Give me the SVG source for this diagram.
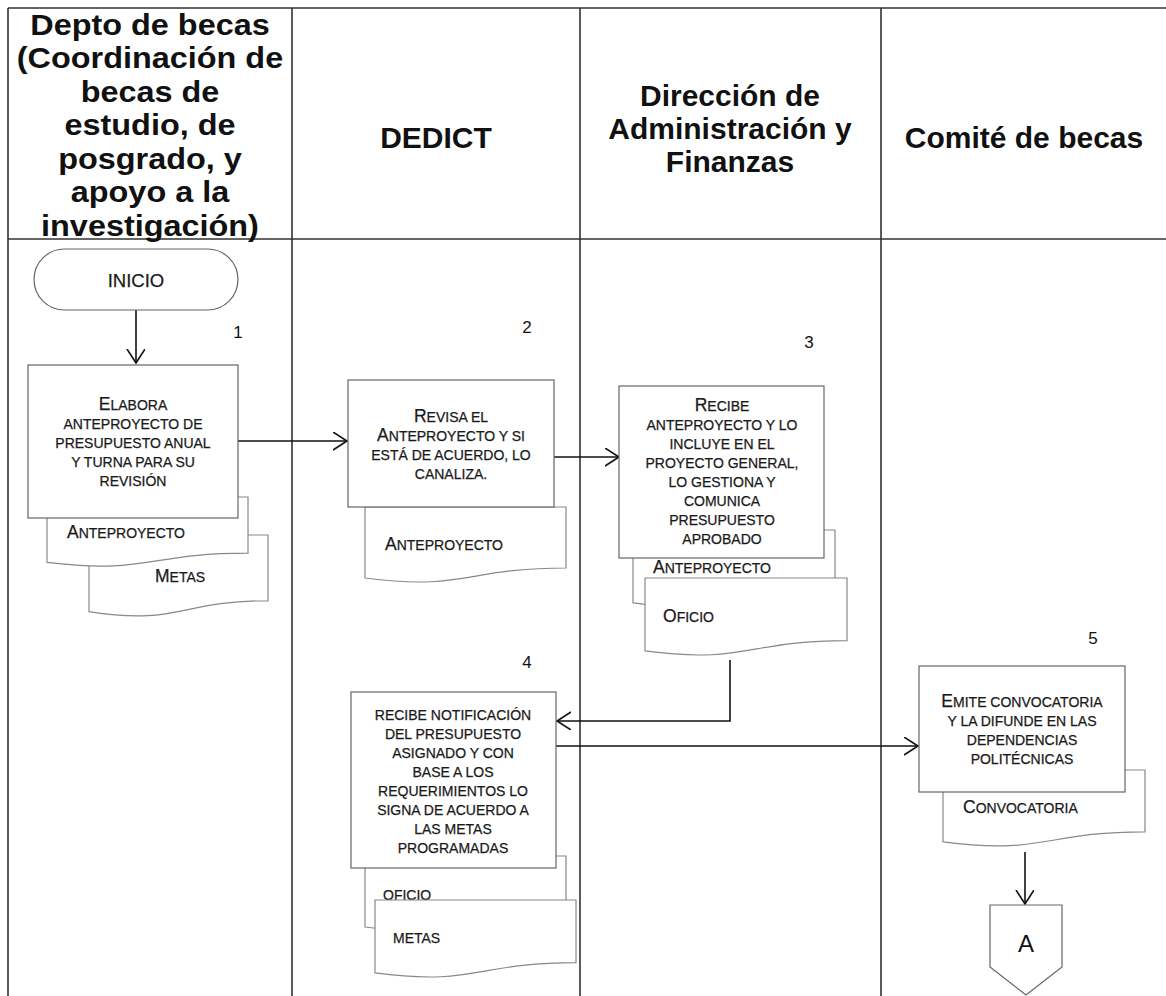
<svg xmlns="http://www.w3.org/2000/svg" width="1166" height="996" viewBox="0 0 1166 996">
<defs>
<marker id="arr" markerUnits="userSpaceOnUse" markerWidth="16" markerHeight="20" refX="14" refY="9" orient="auto">
<path d="M0,0 L14,9 L0,18" fill="none" stroke="#111" stroke-width="1.6"/>
</marker>
<style>
.lane{stroke:#333;stroke-width:1.6;fill:none}
.hd{font-family:"Liberation Sans",Arial,sans-serif;font-weight:bold;font-size:30px;text-anchor:middle;fill:#111}
.box{fill:#fff;stroke:#666;stroke-width:1.2}
.doc{fill:#fff;stroke:#888;stroke-width:1.2}
.t{font-family:"Liberation Sans",Arial,sans-serif;font-size:14px;text-anchor:middle;fill:#1a1a1a;stroke:#1a1a1a;stroke-width:0.25}
.l{font-family:"Liberation Sans",Arial,sans-serif;font-size:14px;text-anchor:start;fill:#1a1a1a;stroke:#1a1a1a;stroke-width:0.25}
.b{font-size:17.5px}
.num{font-family:"Liberation Sans",Arial,sans-serif;font-size:17px;text-anchor:middle;fill:#111}
.con{fill:none;stroke:#111;stroke-width:1.6;marker-end:url(#arr)}
</style>
</defs>
<rect x="0" y="0" width="1166" height="996" fill="#fff"/>
<g id="lanes">
<path class="lane" d="M8 8 H1166 M8 239 H1166 M8 8 V996 M292 8 V996 M580 8 V996 M881 8 V996"/>
<text class="hd" transform="translate(150 0) scale(1.08 1) translate(-150 0)"><tspan x="150" y="35">Depto de becas</tspan><tspan x="150" y="68.5">(Coordinación de</tspan><tspan x="150" y="102">becas de</tspan><tspan x="150" y="135.5">estudio, de</tspan><tspan x="150" y="169">posgrado, y</tspan><tspan x="150" y="202.5">apoyo a la</tspan><tspan x="150" y="236">investigación)</tspan></text>
<text class="hd" x="436" y="148">DEDICT</text>
<text class="hd"><tspan x="730" y="106">Dirección de</tspan><tspan x="730" y="139">Administración y</tspan><tspan x="730" y="172">Finanzas</tspan></text>
<text class="hd" x="1024" y="148">Comité de becas</text>
</g>
<g id="connectors">
<path class="con" d="M136 310 V363"/>
<path class="con" d="M238 441 H347"/>
<path class="con" d="M554 457 H619"/>
<path class="con" d="M730 660 V721 H557"/>
<path class="con" d="M556 746 H918"/>
<path class="con" d="M1025 852 V904"/>
</g>
<g id="inicio">
<rect class="box" x="34" y="249" width="204" height="61" rx="30.5"/>
<text class="t" x="136" y="287" style="font-size:18.5px">INICIO</text>
</g>
<g id="node1">
<text class="num" x="238" y="338">1</text>
<path class="doc" d="M89 535 H268 V600.8 C178.5 600.8 178.5 625.8 89 611.6 Z"/>
<text class="l" x="155" y="582"><tspan class="b">M</tspan>ETAS</text>
<path class="doc" d="M47 497 H248 V553.1 C147.5 553.1 147.5 574.5 47 562.4 Z"/>
<text class="l" x="67" y="538"><tspan class="b">A</tspan>NTEPROYECTO</text>
<rect class="box" x="28" y="365" width="210" height="153"/>
<text class="t"><tspan x="133" y="410"><tspan class="b">E</tspan>LABORA</tspan><tspan x="133" y="429">ANTEPROYECTO DE</tspan><tspan x="133" y="448">PRESUPUESTO ANUAL</tspan><tspan x="133" y="467">Y TURNA PARA SU</tspan><tspan x="133" y="486">REVISIÓN</tspan></text>
</g>
<g id="node2">
<text class="num" x="527" y="333">2</text>
<path class="doc" d="M365 507 H566 V568 C465.5 568 465.5 591.1 365 578 Z"/>
<text class="l" x="385" y="550"><tspan class="b">A</tspan>NTEPROYECTO</text>
<rect class="box" x="348" y="380" width="206" height="127"/>
<text class="t"><tspan x="451" y="422"><tspan class="b">R</tspan>EVISA EL</tspan><tspan x="451" y="441"><tspan class="b">A</tspan>NTEPROYECTO Y SI</tspan><tspan x="451" y="460">ESTÁ DE ACUERDO, LO</tspan><tspan x="451" y="479">CANALIZA.</tspan></text>
</g>
<g id="node3">
<text class="num" x="809" y="348">3</text>
<path class="doc" d="M633 530 H835 V592.6 C734 592.6 734 616.3 633 602.9 Z"/>
<text class="l" x="653" y="573"><tspan class="b">A</tspan>NTEPROYECTO</text>
<path class="doc" d="M645 578 H847 V640.6 C746 640.6 746 664.3 645 650.9 Z"/>
<text class="l" x="663" y="622"><tspan class="b">O</tspan>FICIO</text>
<rect class="box" x="619" y="386" width="205" height="172"/>
<text class="t"><tspan x="722" y="411"><tspan class="b">R</tspan>ECIBE</tspan><tspan x="722" y="430">ANTEPROYECTO Y LO</tspan><tspan x="722" y="449">INCLUYE EN EL</tspan><tspan x="722" y="468">PROYECTO GENERAL,</tspan><tspan x="722" y="487">LO GESTIONA Y</tspan><tspan x="722" y="506">COMUNICA</tspan><tspan x="722" y="525">PRESUPUESTO</tspan><tspan x="722" y="544">APROBADO</tspan></text>
</g>
<g id="node4">
<text class="num" x="527" y="668">4</text>
<path class="doc" d="M365 856 H566 V917 C465.5 917 465.5 940.1 365 927 Z"/>
<text class="l" x="383" y="900">OFICIO</text>
<path class="doc" d="M375 900 H576 V962.6 C475.5 962.6 475.5 986.3 375 972.9 Z"/>
<text class="l" x="393" y="943">METAS</text>
<rect class="box" x="351" y="692" width="205" height="176"/>
<text class="t"><tspan x="453" y="720">RECIBE NOTIFICACIÓN</tspan><tspan x="453" y="739">DEL PRESUPUESTO</tspan><tspan x="453" y="758">ASIGNADO Y CON</tspan><tspan x="453" y="777">BASE A LOS</tspan><tspan x="453" y="796">REQUERIMIENTOS LO</tspan><tspan x="453" y="815">SIGNA DE ACUERDO A</tspan><tspan x="453" y="834">LAS METAS</tspan><tspan x="453" y="853">PROGRAMADAS</tspan></text>
</g>
<g id="node5">
<text class="num" x="1093" y="644">5</text>
<path class="doc" d="M943 770 H1145 V831.8 C1044 831.8 1044 855.2 943 841.9 Z"/>
<text class="l" x="963" y="813"><tspan class="b">C</tspan>ONVOCATORIA</text>
<rect class="box" x="919" y="666" width="206" height="126"/>
<text class="t"><tspan x="1022" y="707"><tspan class="b">E</tspan>MITE CONVOCATORIA</tspan><tspan x="1022" y="726">Y LA DIFUNDE EN LAS</tspan><tspan x="1022" y="745">DEPENDENCIAS</tspan><tspan x="1022" y="764">POLITÉCNICAS</tspan></text>
</g>
<g id="connectorA">
<path class="box" d="M990 905 H1062 V967 L1026 995 L990 967 Z"/>
<text class="num" x="1026" y="952" style="font-size:24px">A</text>
</g>
</svg>
